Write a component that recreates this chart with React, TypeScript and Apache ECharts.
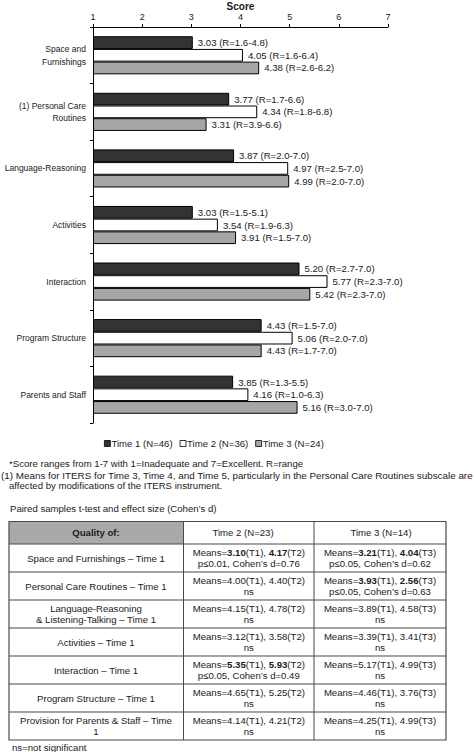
import React, { useEffect, useRef } from "react";
import * as echarts from "echarts";

const FONT = "'Liberation Sans', Arial, sans-serif";

const categories = [
  "Space and\nFurnishings",
  "(1) Personal Care\nRoutines",
  "Language-Reasoning",
  "Activities",
  "Interaction",
  "Program Structure",
  "Parents and Staff",
];
const seriesNames = ["Time 1 (N=46)", "Time 2 (N=36)", "Time 3 (N=24)"];
const time1 = [3.03, 3.77, 3.87, 3.03, 5.2, 4.43, 3.85];
const time2 = [4.05, 4.34, 4.97, 3.54, 5.77, 5.06, 4.16];
const time3 = [4.38, 3.31, 4.99, 3.91, 5.42, 4.43, 5.16];
const range1 = ["1.6-4.8", "1.7-6.6", "2.0-7.0", "1.5-5.1", "2.7-7.0", "1.5-7.0", "1.3-5.5"];
const range2 = ["1.6-6.4", "1.8-6.8", "2.5-7.0", "1.9-6.3", "2.3-7.0", "2.0-7.0", "1.0-6.3"];
const range3 = ["2.6-6.2", "3.9-6.6", "2.0-7.0", "1.5-7.0", "2.3-7.0", "1.7-7.0", "3.0-7.0"];
const seriesColors = ["#333333", "#ffffff", "#a6a6a6"];

const footnotes = [
  "*Score ranges from 1-7 with 1=Inadequate and 7=Excellent. R=range",
  "(1) Means for ITERS for Time 3, Time 4, and Time 5, particularly in the Personal Care Routines subscale are",
  "affected by modifications of the ITERS instrument.",
];
const tableTitle = "Paired samples t-test and effect size (Cohen\u2019s d)";
const tableHeaders = ["Quality of:", "Time 2 (N=23)", "Time 3 (N=14)"];
const tableLabels = [
  "Space and Furnishings \u2013 Time 1",
  "Personal Care Routines \u2013 Time 1",
  "Language-Reasoning\n& Listening-Talking \u2013 Time 1",
  "Activities \u2013 Time 1",
  "Interaction \u2013 Time 1",
  "Program Structure \u2013 Time 1",
  "Provision for Parents & Staff \u2013 Time\n1",
];
const tableTime2 = [
  "Means={b|3.10}(T1), {b|4.17}(T2)\np\u22640.01, Cohen\u2019s d=0.76",
  "Means=4.00(T1), 4.40(T2)\nns",
  "Means=4.15(T1), 4.78(T2)\nns",
  "Means=3.12(T1), 3.58(T2)\nns",
  "Means={b|5.35}(T1), {b|5.93}(T2)\np\u22640.05, Cohen\u2019s d=0.49",
  "Means=4.65(T1), 5.25(T2)\nns",
  "Means=4.14(T1), 4.21(T2)\nns",
];
const tableTime3 = [
  "Means={b|3.21}(T1), {b|4.04}(T3)\np\u22640.05, Cohen\u2019s d=0.62",
  "Means={b|3.93}(T1), {b|2.56}(T3)\np\u22640.05, Cohen\u2019s d=0.63",
  "Means=3.89(T1), 4.58(T3)\nns",
  "Means=3.39(T1), 3.41(T3)\nns",
  "Means=5.17(T1), 4.99(T3)\nns",
  "Means=4.46(T1), 3.76(T3)\nns",
  "Means=4.25(T1), 4.99(T3)\nns",
];
const tableNote = "ns=not significant";

export default function App() {
  const ref = useRef<HTMLDivElement>(null);

  useEffect(() => {
    if (!ref.current) return;
    const chart = echarts.init(ref.current, undefined, { renderer: "svg" });
    const TXT = "#1a1a1a";
    const values = [time1, time2, time3];
    const ranges = [range1, range2, range3];

    const series = values.map((vals, si) => ({
      name: seriesNames[si],
      type: "bar",
      data: vals,
      barWidth: 12.7,
      barGap: "0%",
      clip: true,
      itemStyle: { color: seriesColors[si], borderColor: "#000", borderWidth: 1 },
      label: {
        show: true,
        position: "right",
        distance: 5,
        fontSize: 9.6,
        fontFamily: FONT,
        color: TXT,
        formatter: (p: any) => `${Number(p.value).toFixed(2)} (R=${ranges[si][p.dataIndex]})`,
      },
    }));

    // table layout
    const colX = [9, 183.5, 314, 446];
    const tTop = 521.5;
    const headH = 22.5;
    const rowH = 28;
    const nRows = tableLabels.length;
    const tBottom = tTop + headH + rowH * nRows;
    const border = "#4a4a4a";
    const els: any[] = [];

    footnotes.forEach((t, i) => {
      els.push({
        type: "text",
        x: [9, 1, 9][i],
        y: [463, 475.5, 485.5][i],
        style: {
          text: t,
          fontSize: i === 1 ? 9.85 : 9.6,
          fontFamily: FONT,
          fill: TXT,
          align: "left",
          verticalAlign: "middle",
        },
      });
    });
    els.push({
      type: "text",
      x: 10,
      y: 508.5,
      style: { text: tableTitle, fontSize: 9.6, fontFamily: FONT, fill: TXT, align: "left", verticalAlign: "middle" },
    });
    els.push({
      type: "rect",
      shape: { x: colX[0], y: tTop, width: colX[1] - colX[0], height: headH },
      style: { fill: "#a9a9a9" },
    });
    els.push({
      type: "rect",
      shape: { x: colX[0], y: tTop, width: colX[3] - colX[0], height: tBottom - tTop },
      style: { fill: "none", stroke: border, lineWidth: 1.2 },
    });
    [colX[1], colX[2]].forEach((x) => {
      els.push({
        type: "line",
        shape: { x1: x, y1: tTop, x2: x, y2: tBottom },
        style: { stroke: border, lineWidth: 1 },
      });
    });
    for (let i = 0; i < nRows; i++) {
      const y = tTop + headH + rowH * i;
      els.push({
        type: "line",
        shape: { x1: colX[0], y1: y, x2: colX[3], y2: y },
        style: { stroke: border, lineWidth: 1 },
      });
    }
    const headerCx = [96, 243, 381];
    tableHeaders.forEach((h, i) => {
      els.push({
        type: "text",
        x: headerCx[i],
        y: tTop + headH / 2,
        style: {
          text: h,
          fontSize: 9.6,
          fontFamily: FONT,
          fontWeight: i === 0 ? "bold" : "normal",
          fill: TXT,
          align: "center",
          verticalAlign: "middle",
        },
      });
    });
    const cellCx = [96, 248.8, 380];
    const cols = [tableLabels, tableTime2, tableTime3];
    for (let r = 0; r < nRows; r++) {
      const cy = tTop + headH + rowH * r + rowH / 2;
      cols.forEach((col, c) => {
        els.push({
          type: "text",
          x: cellCx[c],
          y: cy,
          style: {
            text: col[r],
            fontSize: 9.6,
            fontFamily: FONT,
            fill: TXT,
            align: "center",
            verticalAlign: "middle",
            lineHeight: 11.5,
            rich: {
              b: { fontWeight: "bold", fontSize: 9.6, fontFamily: FONT, fill: TXT, lineHeight: 11.5 },
            },
          },
        });
      });
    }
    els.push({
      type: "text",
      x: 12,
      y: 747,
      style: { text: tableNote, fontSize: 9.6, fontFamily: FONT, fill: TXT, align: "left", verticalAlign: "middle" },
    });

    chart.setOption({
      animation: false,
      textStyle: { fontFamily: FONT },
      grid: { left: 93, right: 86, top: 27, height: 396, containLabel: false, outerBoundsMode: "none" },
      legend: {
        data: seriesNames,
        left: 104,
        top: 438.5,
        padding: 0,
        itemWidth: 6,
        itemHeight: 6,
        itemGap: 7,
        icon: "rect",
        itemStyle: { borderColor: "#000", borderWidth: 0.8 },
        textStyle: { fontSize: 9.6, fontFamily: FONT, color: TXT, padding: [0, 0, 0, -4] },
      },
      xAxis: {
        type: "value",
        position: "top",
        min: 1,
        max: 7,
        interval: 1,
        startValue: 1,
        name: "Score",
        nameLocation: "middle",
        nameGap: 16,
        nameMoveOverlap: false,
        nameTextStyle: { fontSize: 10, fontWeight: "bold", fontFamily: FONT, color: TXT },
        axisLine: { show: true, lineStyle: { color: "#000", width: 1 } },
        axisTick: { show: true, length: 3, lineStyle: { color: "#000" } },
        axisLabel: { fontSize: 9, fontFamily: FONT, color: TXT, margin: 6 },
        splitLine: { show: false },
      },
      yAxis: {
        type: "category",
        inverse: true,
        data: categories,
        axisLine: { show: true, lineStyle: { color: "#000", width: 1 } },
        axisTick: { show: true, length: 3, lineStyle: { color: "#000" } },
        axisLabel: { fontSize: 8.5, fontFamily: FONT, color: TXT, margin: 7, lineHeight: 12.5 },
      },
      series,
      graphic: { elements: els },
    });
    return () => chart.dispose();
  }, []);

  return (
    <div
      ref={ref}
      style={{ position: "absolute", left: 0, top: 0, width: 474, height: 752, background: "#fff" }}
    />
  );
}
